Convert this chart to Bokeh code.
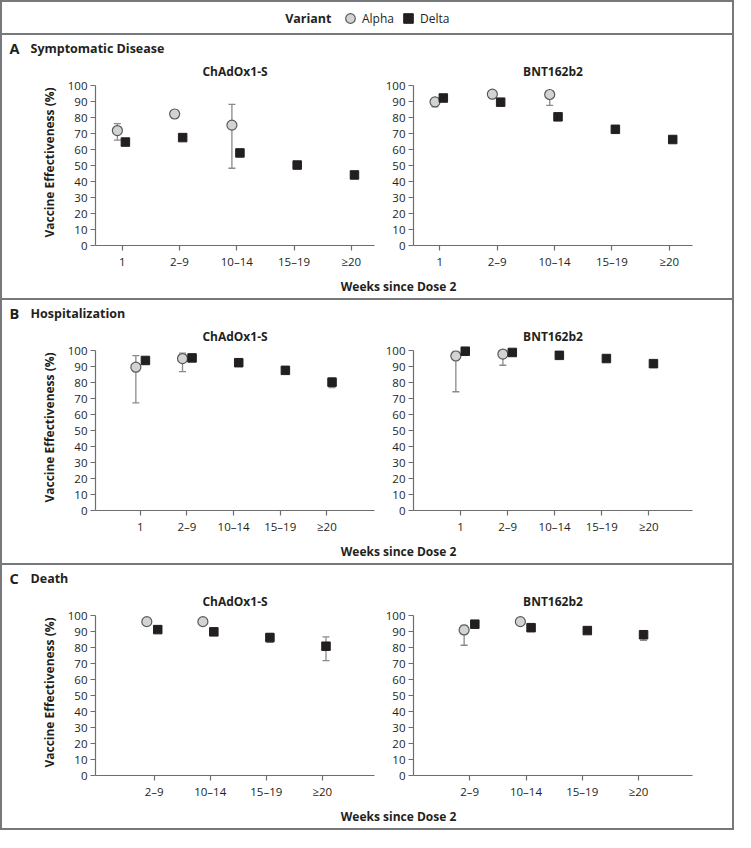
import numpy as np
from bokeh.plotting import figure
from bokeh.layouts import column, row
from bokeh.models import ColumnDataSource, Range1d, FixedTicker, Label, Legend, LegendItem
from bokeh.transform import dodge
from bokeh.embed import file_html
from bokeh.resources import INLINE

nan = float("nan")

# ---------------- data ----------------
weeks_5 = ["1", "2–9", "10–14", "15–19", "≥20"]
weeks_4 = ["2–9", "10–14", "15–19", "≥20"]

# A  Symptomatic disease
sym_chad_alpha = [72.0, 82.4, 75.4, nan, nan]
sym_chad_alpha_lo = [66.0, 80.0, 48.4, nan, nan]
sym_chad_alpha_hi = [76.4, 84.6, 88.4, nan, nan]
sym_chad_delta = [64.8, 67.6, 58.0, 50.4, 44.2]
sym_chad_delta_lo = [nan, nan, nan, nan, nan]
sym_chad_delta_hi = [nan, nan, nan, nan, nan]

sym_bnt_alpha = [90.0, 94.8, 94.6, nan, nan]
sym_bnt_alpha_lo = [86.8, nan, 87.8, nan, nan]
sym_bnt_alpha_hi = [92.0, nan, 96.5, nan, nan]
sym_bnt_delta = [92.4, 89.8, 80.6, 72.8, 66.4]
sym_bnt_delta_lo = [nan, nan, nan, nan, nan]
sym_bnt_delta_hi = [nan, nan, nan, nan, nan]

# B  Hospitalization
hosp_chad_alpha = [89.8, 95.2, nan, nan, nan]
hosp_chad_alpha_lo = [67.4, 87.0, nan, nan, nan]
hosp_chad_alpha_hi = [97.0, 98.6, nan, nan, nan]
hosp_chad_delta = [94.0, 95.6, 92.6, 87.8, 80.4]
hosp_chad_delta_lo = [nan, nan, nan, nan, 77.0]
hosp_chad_delta_hi = [nan, nan, nan, nan, 83.0]

hosp_bnt_alpha = [96.8, 98.0, nan, nan, nan]
hosp_bnt_alpha_lo = [74.4, 91.0, nan, nan, nan]
hosp_bnt_alpha_hi = [99.6, 99.6, nan, nan, nan]
hosp_bnt_delta = [99.8, 99.0, 97.2, 95.2, 92.0]
hosp_bnt_delta_lo = [nan, nan, nan, nan, nan]
hosp_bnt_delta_hi = [nan, nan, nan, nan, nan]

# C  Death
death_chad_alpha = [96.4, 96.4, nan, nan]
death_chad_alpha_lo = [nan, nan, nan, nan]
death_chad_alpha_hi = [nan, nan, nan, nan]
death_chad_delta = [91.4, 90.0, 86.4, 81.0]
death_chad_delta_lo = [nan, nan, 83.4, 72.0]
death_chad_delta_hi = [nan, nan, 89.0, 86.8]

death_bnt_alpha = [91.2, 96.4, nan, nan]
death_bnt_alpha_lo = [81.6, nan, nan, nan]
death_bnt_alpha_hi = [94.0, nan, nan, nan]
death_bnt_delta = [94.8, 92.6, 90.8, 88.2]
death_bnt_delta_lo = [nan, nan, nan, 84.6]
death_bnt_delta_hi = [nan, nan, nan, 90.8]

vaccines = ["ChAdOx1-S", "BNT162b2"]
variants = ["Alpha", "Delta"]
y_ticks = [0, 10, 20, 30, 40, 50, 60, 70, 80, 90, 100]

# ---------------- style ----------------
FONT = "Open Sans"
TXT = "#231f20"
AX = "#6d6e71"
ERR = "#8a8a8a"
BORDER = "#77787b"
ALPHA_FILL = "#d1d3d4"
ALPHA_LINE = "#58595b"
DELTA_FILL = "#231f20"
INNER_W = 730


def make_plot(title, cats, a, alo, ahi, d, dlo, dhi, xr, off, first):
    pos = [i + 1 for i in range(len(cats))]
    p = figure(width=377 if first else 353, height=213,
               x_range=Range1d(*xr), y_range=Range1d(0, 104),
               output_backend="svg", toolbar_location=None,
               min_border_left=93 if first else 34,
               min_border_right=5 if first else 40,
               min_border_top=17, min_border_bottom=28, title=title)
    p.title.align = "center"
    p.title.text_font = FONT
    p.title.text_font_size = "12px"
    p.title.text_font_style = "bold"
    p.title.text_color = TXT
    p.title.standoff = 0
    p.outline_line_color = None
    p.grid.visible = False
    p.background_fill_color = "white"
    p.border_fill_color = "white"

    p.xaxis.ticker = FixedTicker(ticks=pos)
    p.xaxis.major_label_overrides = {x: c for x, c in zip(pos, cats)}
    p.yaxis.ticker = FixedTicker(ticks=y_ticks)
    p.yaxis.bounds = (0, 100)
    for ax in (p.xaxis[0], p.yaxis[0]):
        ax.axis_line_color = AX
        ax.axis_line_width = 1.2
        ax.major_tick_line_color = AX
        ax.major_tick_line_width = 1.2
        ax.major_tick_out = 5
        ax.major_tick_in = 0
        ax.minor_tick_line_color = None
        ax.major_label_text_font = FONT
        ax.major_label_text_font_size = "11.5px"
        ax.major_label_text_color = TXT
        ax.major_label_standoff = 3
    if first:
        p.yaxis.axis_label = "Vaccine Effectiveness (%)"
        p.yaxis.axis_label_text_font = FONT
        p.yaxis.axis_label_text_font_size = "12px"
        p.yaxis.axis_label_text_font_style = "bold"
        p.yaxis.axis_label_text_color = TXT
        p.yaxis.axis_label_standoff = 7

    sa = ColumnDataSource(dict(x=pos, v=np.array(a, float), lo=np.array(alo, float), hi=np.array(ahi, float)))
    sd = ColumnDataSource(dict(x=pos, v=np.array(d, float), lo=np.array(dlo, float), hi=np.array(dhi, float)))
    for src, o in ((sa, off[0]), (sd, off[1])):
        xs = dodge("x", o, range=p.x_range)
        p.segment(x0=xs, y0="lo", x1=xs, y1="hi", source=src, line_color=ERR, line_width=1.3)
        p.scatter(x=xs, y="lo", source=src, marker="dash", size=7, line_color=ERR, line_width=1.3)
        p.scatter(x=xs, y="hi", source=src, marker="dash", size=7, line_color=ERR, line_width=1.3)
    p.scatter(x=dodge("x", off[0], range=p.x_range), y="v", source=sa, marker="circle", size=10,
              fill_color=ALPHA_FILL, line_color=ALPHA_LINE, line_width=1.2)
    p.scatter(x=dodge("x", off[1], range=p.x_range), y="v", source=sd, marker="square", size=8.5,
              fill_color=DELTA_FILL, line_color=DELTA_FILL)
    return p


def blank(w, h):
    f = figure(width=w, height=h, x_range=Range1d(0, w), y_range=Range1d(0, h),
               output_backend="svg", toolbar_location=None, min_border=0,
               x_axis_location=None, y_axis_location=None)
    f.grid.visible = False
    f.outline_line_color = None
    f.background_fill_color = "white"
    f.border_fill_color = "white"
    return f


def make_panel(letter, name, cats, left_data, right_data, xr_left, xr_right, off_left, off_right):
    head = blank(INNER_W, 25)
    head.add_layout(Label(x=7, y=12, text=letter, text_font=FONT, text_font_size="14.5px",
                          text_font_style="bold", text_color=TXT, text_baseline="middle"))
    head.add_layout(Label(x=28, y=12, text=name, text_font=FONT, text_font_size="12.5px",
                          text_font_style="bold", text_color=TXT, text_baseline="middle"))
    pl = make_plot(vaccines[0], cats, *left_data, xr_left, off_left, True)
    pr = make_plot(vaccines[1], cats, *right_data, xr_right, off_right, False)
    foot = blank(INNER_W, 25)
    foot.add_layout(Label(x=396, y=12, text="Weeks since Dose 2", text_font=FONT, text_font_size="12px",
                          text_font_style="bold", text_color=TXT, text_baseline="middle",
                          text_align="center"))
    return column(head, row(pl, pr), foot, styles={"border-top": "2px solid " + BORDER})


# legend band (renderers hold one NaN row so only their legend keys are drawn)
leg = blank(INNER_W, 31)
ra = leg.scatter(x=[nan], y=[nan], marker="circle", size=10, fill_color=ALPHA_FILL,
                 line_color=ALPHA_LINE, line_width=1.2)
rd = leg.scatter(x=[nan], y=[nan], marker="square", size=8.5, fill_color=DELTA_FILL,
                 line_color=DELTA_FILL)
legend = Legend(items=[LegendItem(label=variants[0], renderers=[ra]),
                       LegendItem(label=variants[1], renderers=[rd])],
                orientation="horizontal", location=(336, 3),
                glyph_width=24, glyph_height=24, label_standoff=0, spacing=2,
                padding=0, margin=0, border_line_color=None, background_fill_alpha=0,
                label_text_font=FONT, label_text_font_size="12px", label_text_color=TXT,
                label_height=24)
leg.add_layout(legend, "center")
leg.add_layout(Label(x=329, y=15, text="Variant", text_font=FONT, text_font_size="12.5px",
                     text_font_style="bold", text_color=TXT, text_baseline="middle",
                     text_align="right"))

panel_a = make_panel("A", "Symptomatic Disease", weeks_5,
                     (sym_chad_alpha, sym_chad_alpha_lo, sym_chad_alpha_hi,
                      sym_chad_delta, sym_chad_delta_lo, sym_chad_delta_hi),
                     (sym_bnt_alpha, sym_bnt_alpha_lo, sym_bnt_alpha_hi,
                      sym_bnt_delta, sym_bnt_delta_lo, sym_bnt_delta_hi),
                     (0.533, 5.405), (0.54, 5.405), (-0.085, 0.055), (-0.085, 0.06))
panel_b = make_panel("B", "Hospitalization", weeks_5,
                     (hosp_chad_alpha, hosp_chad_alpha_lo, hosp_chad_alpha_hi,
                      hosp_chad_delta, hosp_chad_delta_lo, hosp_chad_delta_hi),
                     (hosp_bnt_alpha, hosp_bnt_alpha_lo, hosp_bnt_alpha_hi,
                      hosp_bnt_delta, hosp_bnt_delta_lo, hosp_bnt_delta_hi),
                     (0.04, 6.02), (0.0, 5.93), (-0.095, 0.11), (-0.1, 0.1))
panel_c = make_panel("C", "Death", weeks_4,
                     (death_chad_alpha, death_chad_alpha_lo, death_chad_alpha_hi,
                      death_chad_delta, death_chad_delta_lo, death_chad_delta_hi),
                     (death_bnt_alpha, death_bnt_alpha_lo, death_bnt_alpha_hi,
                      death_bnt_delta, death_bnt_delta_lo, death_bnt_delta_hi),
                     (-0.045, 4.93), (0.0, 4.96), (-0.13, 0.065), (-0.1, 0.09))

page = column(leg, panel_a, panel_b, panel_c, styles={"border": "2px solid " + BORDER})

open("out.html", "w").write(file_html(page, INLINE))
